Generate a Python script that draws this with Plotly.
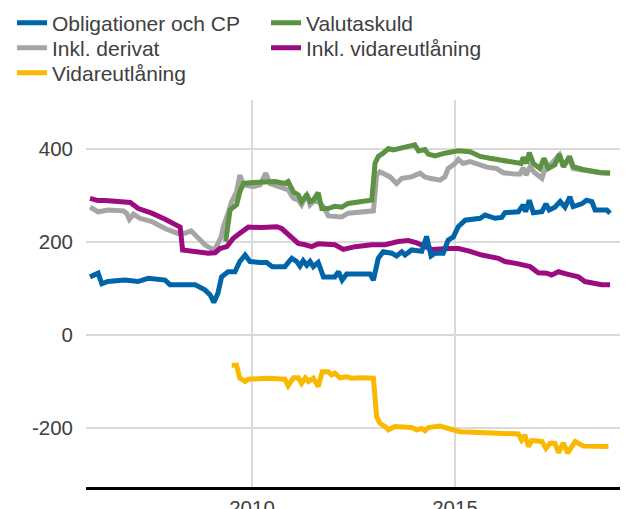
import plotly.graph_objects as go

# ---- data (decimal years, values) ----
oblig_x = [2006.01, 2006.21, 2006.30, 2006.45, 2006.87, 2007.19, 2007.44, 2007.86, 2007.98, 2008.60,
           2008.84, 2008.97, 2009.06, 2009.16, 2009.25, 2009.33, 2009.41, 2009.58, 2009.70, 2009.83,
           2009.95, 2010.20, 2010.36, 2010.50, 2010.81, 2010.98, 2011.10, 2011.18, 2011.26, 2011.35,
           2011.43, 2011.51, 2011.63, 2011.76, 2012.04, 2012.13, 2012.22, 2012.33, 2012.91, 2012.99,
           2013.11, 2013.23, 2013.44, 2013.56, 2013.69, 2013.77, 2013.93, 2014.18, 2014.30, 2014.41,
           2014.51, 2014.71, 2014.83, 2014.96, 2015.08, 2015.25, 2015.62, 2015.74, 2015.99, 2016.15,
           2016.23, 2016.56, 2016.68, 2016.74, 2016.83, 2016.93, 2017.14, 2017.24, 2017.32, 2017.46,
           2017.59, 2017.71, 2017.83, 2017.91, 2018.12, 2018.24, 2018.37, 2018.45, 2018.74, 2018.82]
oblig_y = [125, 133, 110, 115, 118, 115, 122, 118, 108, 108,
           97, 86, 70, 90, 125, 129, 136, 136, 158, 172,
           158, 156, 156, 147, 147, 165, 158, 148, 160, 150,
           158, 147, 156, 125, 125, 136, 118, 131, 131, 118,
           165, 179, 176, 170, 179, 172, 183, 180, 212, 170,
           176, 176, 204, 211, 233, 247, 251, 258, 251, 253,
           263, 265, 280, 265, 290, 263, 265, 282, 269, 275,
           287, 275, 297, 276, 282, 290, 287, 269, 269, 262]

deriv_x = [2006.01, 2006.21, 2006.46, 2006.83, 2006.91, 2006.98, 2007.08, 2007.24, 2007.53, 2007.86,
           2008.15, 2008.35, 2008.50, 2008.64, 2008.84, 2009.05, 2009.13, 2009.24, 2009.29, 2009.42,
           2009.50, 2009.62, 2009.70, 2009.79, 2010.03, 2010.20, 2010.34, 2010.44, 2010.65, 2010.89,
           2011.02, 2011.14, 2011.22, 2011.35, 2011.43, 2011.51, 2011.63, 2011.76, 2011.88, 2012.00,
           2012.21, 2012.37, 2012.95, 2012.99, 2013.07, 2013.15, 2013.40, 2013.56, 2013.69, 2013.93,
           2014.14, 2014.26, 2014.38, 2014.63, 2014.75, 2014.83, 2015.00, 2015.08, 2015.20, 2015.37,
           2015.62, 2015.78, 2016.03, 2016.19, 2016.48, 2016.60, 2016.68, 2016.75, 2016.85, 2016.95,
           2017.14, 2017.22, 2017.38, 2017.57, 2017.67, 2017.82, 2017.91, 2018.24, 2018.57, 2018.82]
deriv_y = [275, 265, 269, 267, 262, 249, 260, 251, 244, 229,
           219, 219, 224, 213, 194, 183, 191, 211, 232, 265,
           287, 308, 344, 323, 319, 323, 348, 326, 319, 312,
           294, 290, 280, 303, 280, 287, 287, 276, 256, 256,
           254, 262, 265, 267, 344, 351, 340, 326, 337, 340,
           348, 340, 337, 333, 340, 358, 369, 378, 369, 373,
           366, 361, 358, 349, 346, 346, 360, 344, 362, 350,
           337, 358, 369, 387, 362, 380, 358, 353, 349, 349]

vidare_x = [2009.50, 2009.62, 2009.70, 2009.83, 2009.91, 2010.40, 2010.81, 2010.89, 2011.02, 2011.14,
            2011.22, 2011.31, 2011.39, 2011.51, 2011.63, 2011.73, 2011.88, 2011.96, 2012.04, 2012.17,
            2012.33, 2012.46, 2012.70, 2012.83, 2012.99, 2013.07, 2013.15, 2013.28, 2013.36, 2013.52,
            2013.93, 2014.06, 2014.18, 2014.26, 2014.34, 2014.63, 2014.96, 2015.12, 2015.45, 2015.86,
            2016.27, 2016.56, 2016.64, 2016.72, 2016.81, 2016.89, 2017.14, 2017.24, 2017.34, 2017.46,
            2017.55, 2017.67, 2017.77, 2017.96, 2018.16, 2018.49, 2018.78]
vidare_y = [-65, -65, -93, -100, -95, -93, -95, -109, -92, -92,
            -104, -92, -100, -93, -111, -79, -79, -86, -82, -92,
            -90, -93, -92, -92, -93, -176, -190, -197, -204, -197,
            -199, -204, -201, -206, -199, -196, -203, -208, -209, -210,
            -213, -213, -226, -215, -240, -227, -229, -244, -233, -233,
            -253, -232, -254, -229, -239, -240, -240]

valuta_x = [2009.35, 2009.42, 2009.46, 2009.54, 2009.62, 2009.70, 2009.79, 2010.03, 2010.32, 2010.57,
            2010.81, 2010.89, 2011.02, 2011.14, 2011.22, 2011.35, 2011.43, 2011.51, 2011.63, 2011.72,
            2011.88, 2012.04, 2012.21, 2012.37, 2012.70, 2012.95, 2013.03, 2013.11, 2013.23, 2013.36,
            2013.48, 2013.77, 2013.93, 2014.01, 2014.10, 2014.26, 2014.34, 2014.51, 2014.75, 2015.08,
            2015.37, 2015.62, 2015.86, 2016.15, 2016.48, 2016.63, 2016.68, 2016.76, 2016.83, 2016.93,
            2017.09, 2017.19, 2017.30, 2017.46, 2017.57, 2017.67, 2017.82, 2017.91, 2018.15, 2018.40,
            2018.61, 2018.82]
valuta_y = [201, 240, 269, 275, 280, 308, 326, 328, 328, 330,
            326, 330, 308, 301, 287, 301, 287, 290, 306, 272,
            272, 277, 275, 283, 287, 290, 369, 384, 391, 401,
            398, 404, 405, 409, 396, 399, 389, 385, 391, 396,
            394, 384, 380, 375, 369, 369, 382, 369, 392, 369,
            358, 380, 358, 366, 389, 362, 384, 362, 356, 351,
            349, 348]

inkl_vid_x = [2006.01, 2006.21, 2006.38, 2006.71, 2007.00, 2007.20, 2007.53, 2007.86, 2008.23, 2008.29,
              2008.51, 2008.84, 2008.92, 2009.09, 2009.21, 2009.38, 2009.54, 2009.70, 2009.91, 2010.24,
              2010.61, 2010.73, 2010.98, 2011.14, 2011.31, 2011.47, 2011.63, 2012.04, 2012.25, 2012.54,
              2012.95, 2013.28, 2013.60, 2013.85, 2014.06, 2014.26, 2014.43, 2014.83, 2015.08, 2015.33,
              2015.66, 2016.07, 2016.23, 2016.56, 2016.85, 2017.05, 2017.26, 2017.38, 2017.55, 2017.76,
              2018.04, 2018.20, 2018.41, 2018.61, 2018.82]
inkl_vid_y = [294, 289, 289, 287, 285, 272, 262, 249, 232, 183,
              181, 176, 176, 177, 186, 190, 208, 219, 232, 231,
              233, 229, 211, 197, 194, 190, 196, 194, 184, 190,
              194, 194, 201, 203, 198, 191, 184, 186, 186, 181,
              172, 165, 158, 153, 147, 134, 133, 129, 136, 131,
              125, 115, 111, 108, 108]

y_ticks = [-200, 0, 200, 400]
y_ticktext = ["-200", "0", "200", "400"]
x_ticks = [2010, 2015]
x_ticktext = ["2010", "2015"]

# name, x, y, colour, legend row
series = [
    ("Obligationer och CP", oblig_x, oblig_y, "#0065a8", "legend"),
    ("Valutaskuld", valuta_x, valuta_y, "#5b9342", "legend"),
    ("Inkl. derivat", deriv_x, deriv_y, "#a5a5a5", "legend2"),
    ("Inkl. vidareutlåning", inkl_vid_x, inkl_vid_y, "#9c0c80", "legend2"),
    ("Vidareutlåning", vidare_x, vidare_y, "#fbb800", "legend3"),
]

draw_order = ["Inkl. derivat", "Valutaskuld", "Vidareutlåning", "Inkl. vidareutlåning", "Obligationer och CP"]
legend_rank = {s[0]: i for i, s in enumerate(series)}

fig = go.Figure()
for name in draw_order:
    for (n, xs, ys, col, leg) in series:
        if n == name:
            fig.add_trace(go.Scatter(
                x=xs, y=ys, name=n, mode="lines",
                line=dict(color=col, width=5),
                legend=leg,
                legendrank=legend_rank[n] + 1,
                hoverinfo="skip",
            ))

leg_font = dict(family="Arial", size=21, color="#404040")
tick_font = dict(family="Arial", size=20.5, color="#404040")


def leg(y):
    return dict(
        orientation="h", xref="paper", yref="paper",
        x=-0.1345, y=y, xanchor="left", yanchor="top",
        entrywidth=209, entrywidthmode="pixels",
        font=leg_font, bgcolor="rgba(0,0,0,0)",
    )


fig.update_layout(
    width=628, height=509,
    margin=dict(l=78, r=0, t=92, b=30, autoexpand=False),
    plot_bgcolor="white", paper_bgcolor="white",
    font=dict(family="Arial", size=21, color="#404040"),
    showlegend=True,
    legend=leg(1.2519),
    legend2=leg(1.1873),
    legend3=leg(1.1227),
    xaxis=dict(
        range=[2005.911, 2019.458], tickvals=x_ticks, ticktext=x_ticktext,
        showgrid=True, gridcolor="#dadada", gridwidth=2,
        showline=True, linecolor="#000000", linewidth=3,
        ticks="", zeroline=False, ticklabelstandoff=0,
        tickfont=tick_font, automargin=False,
    ),
    yaxis=dict(
        range=[-326.9, 505.4], tickvals=y_ticks, ticktext=y_ticktext,
        showgrid=True, gridcolor="#dadada", gridwidth=2,
        showline=False, zeroline=False, ticks="", ticklabelstandoff=12,
        tickfont=tick_font, automargin=False,
    ),
)

fig.write_html("out.html")
